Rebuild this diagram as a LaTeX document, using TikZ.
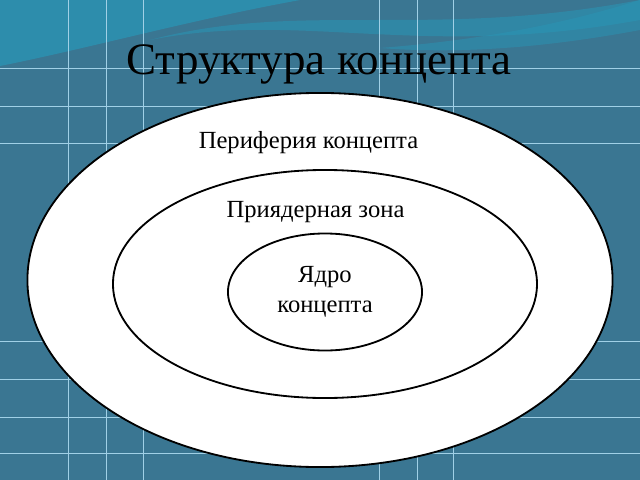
\documentclass[tikz,border=0pt]{standalone}
\usepackage{fontspec}
\setmainfont{Liberation Serif}
\usetikzlibrary{positioning}
\usetikzlibrary{shapes.geometric}
\usetikzlibrary{backgrounds}
\definecolor{slide}{RGB}{58,118,146}
\definecolor{wave}{RGB}{40,152,184}
\definecolor{gridline}{RGB}{160,208,230}

\begin{document}
\begin{tikzpicture}[x=0.025cm, y=-0.025cm,
			ring/.style={draw, ellipse, fill=white, line width=1.3pt, inner sep=0pt},
			caption/.style={font=\fontsize{17.5}{20}\selectfont, anchor=base}]
			\useasboundingbox (0,0) rectangle (640,480);
			\begin{scope}[on background layer]
				\fill[slide] (0,0) rectangle (640,480);
				\fill[wave, opacity=0.7] (0,0) -- (0,66) .. controls (90,48) and (190,20) .. (300,0) -- cycle;
				\fill[wave, opacity=0.5] (150,40) .. controls (300,10) and (420,60) .. (640,20) -- (640,0) .. controls (430,40) and (300,0) .. (150,40) -- cycle;
				\fill[wave, opacity=0.45] (380,48) .. controls (480,40) and (560,25) .. (640,0) -- (640,30) .. controls (560,45) and (470,55) .. (380,48) -- cycle;
				\foreach \x in {68,106,143,379,417,453}
					\draw[gridline, line width=0.55pt] (\x,0) -- (\x,480);
				\foreach \y in {68,106,143,341,379,417,453}
					\draw[gridline, line width=0.55pt] (0,\y) -- (640,\y);
			\end{scope}
			\node[anchor=base, font=\fontsize{32}{38}\selectfont] (title) at (319,74) {Структура концепта};
			\node[ring, minimum width=14.625cm, minimum height=9.35cm] (periphery) at (320,280) {};
			\node[ring, minimum width=10.6cm, minimum height=5.7cm] (nearcore) at (325,284) {};
			\node[ring, minimum width=4.85cm, minimum height=2.925cm, align=center, font=\fontsize{17.5}{21.5}\selectfont] (core) at (325,292) {Ядро\\концепта};
			\node[caption] (peripherylabel) at (308.5,148) {Периферия концепта};
			\node[caption] (nearcorelabel) at (315.5,217) {Приядерная зона};
	\end{tikzpicture}
\end{document}
